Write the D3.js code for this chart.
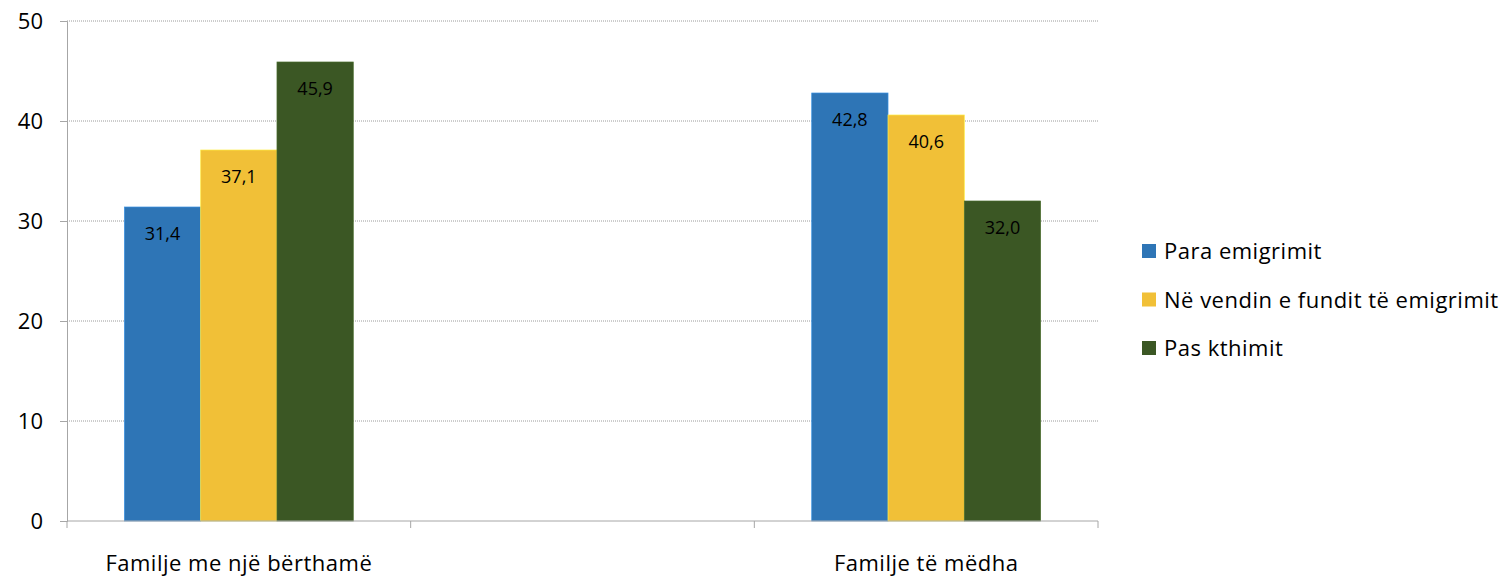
<!DOCTYPE html>
<html><head><meta charset="utf-8">
<script src="https://cdn.jsdelivr.net/npm/d3@7"></script>
<style>body{margin:0;background:#fff}svg{display:block}text{font-family:"Open Sans",sans-serif}</style>
</head><body>
<svg id="c" width="1507" height="576"></svg>
<script>
const categories = ["Familje me një bërthamë", "", "Familje të mëdha"];
const seriesNames = ["Para emigrimit", "Në vendin e fundit të emigrimit", "Pas kthimit"];
const seriesColors = ["#2E75B6", "#F1C037", "#3B5724"];
const paraEmigrimit = [31.4, null, 42.8];
const neVendin = [37.1, null, 40.6];
const pasKthimit = [45.9, null, 32.0];
const yTicks = [0, 10, 20, 30, 40, 50];
const values = [paraEmigrimit, neVendin, pasKthimit];

const svg = d3.select("#c");
const L = 67, R = 1098, T = 21, B = 521;
const x = d3.scaleBand().domain(d3.range(categories.length)).range([L, R]).paddingInner(0).paddingOuter(0);
const y = d3.scaleLinear().domain([0, 50]).range([B, T]);
const groupW = x.bandwidth() * 0.666;
const xs = d3.scaleBand().domain(d3.range(seriesNames.length)).range([0, groupW]).padding(0);

// gridlines
svg.append("g").selectAll("line").data(yTicks.filter(d => d > 0)).join("line")
  .attr("x1", L).attr("x2", R).attr("y1", d => y(d)).attr("y2", d => y(d))
  .attr("stroke", "#9a9a9a").attr("stroke-width", 1).attr("stroke-dasharray", "1,1");

// bars
const gBars = svg.append("g");
values.forEach((arr, si) => {
  arr.forEach((v, ci) => {
    if (v == null) return;
    const bx = x(ci) + (x.bandwidth() - groupW) / 2 + xs(si);
    gBars.append("rect").attr("x", bx).attr("y", y(v)).attr("width", xs.bandwidth()).attr("height", B - y(v))
      .attr("fill", seriesColors[si]).attr("stroke", d3.color(seriesColors[si]).brighter(0.6)).attr("stroke-width", 0.7);
    gBars.append("text").attr("x", bx + xs.bandwidth() / 2).attr("y", y(v) + 33)
      .attr("text-anchor", "middle").attr("font-size", 18).attr("fill", "#000")
      .text(d3.format(".1f")(v).replace(".", ","));
  });
});

// y axis
const yAxis = svg.append("g").attr("transform", `translate(${L},0)`)
  .call(d3.axisLeft(y).tickValues(yTicks).tickSize(7).tickPadding(17).tickFormat(d3.format("d")));
yAxis.select(".domain").attr("stroke", "#a6a6a6");
yAxis.selectAll(".tick line").attr("stroke", "#a6a6a6");
yAxis.selectAll(".tick text").attr("font-size", 22).attr("fill", "#000").attr("font-family", "'Open Sans', sans-serif");

// x axis
const xb = svg.append("g").attr("transform", `translate(0,${B})`);
xb.append("line").attr("x1", L).attr("x2", R).attr("stroke", "#a6a6a6");
const bounds = d3.range(categories.length + 1).map(i => L + i * x.bandwidth());
xb.selectAll("line.t").data(bounds).join("line").attr("class", "t")
  .attr("x1", d => d).attr("x2", d => d).attr("y1", 0).attr("y2", 7).attr("stroke", "#a6a6a6");
xb.selectAll("text").data(categories).join("text")
  .attr("x", (d, i) => x(i) + x.bandwidth() / 2).attr("y", 50)
  .attr("text-anchor", "middle").attr("font-size", 22).attr("letter-spacing", 0.5).attr("fill", "#000").text(d => d);

// legend
const lg = svg.append("g").attr("transform", "translate(1142,251)");
seriesNames.forEach((n, i) => {
  const g = lg.append("g").attr("transform", `translate(0,${i * 48.5})`);
  g.append("rect").attr("x", 0).attr("y", -7).attr("width", 14).attr("height", 14).attr("fill", seriesColors[i]);
  g.append("text").attr("x", 22).attr("y", 8).attr("font-size", 22).attr("letter-spacing", 0.5).attr("fill", "#000").text(n);
});
</script>
</body></html>
